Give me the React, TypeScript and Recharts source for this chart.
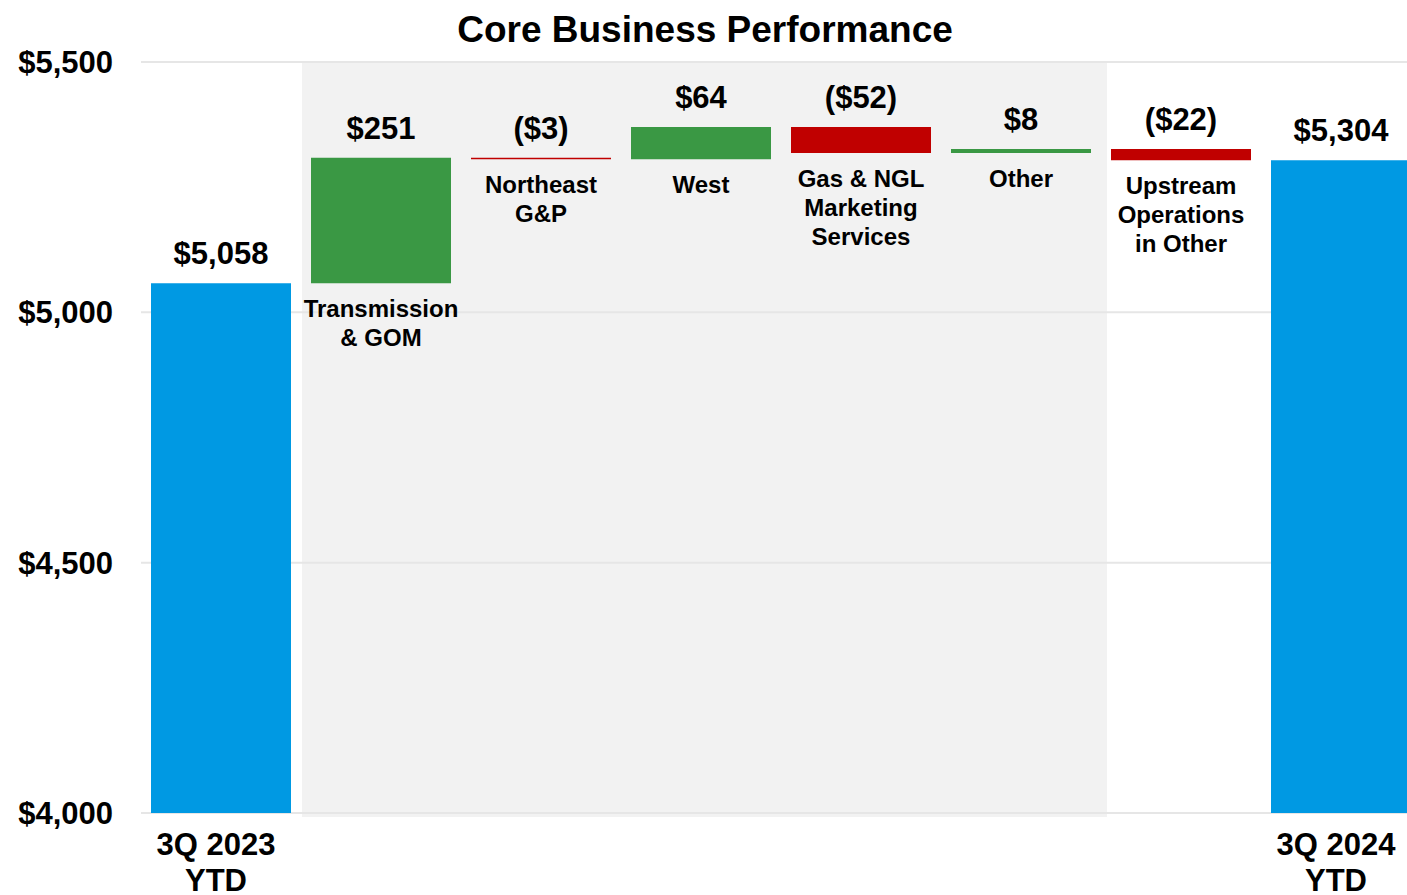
import { BarChart, Bar, Cell, XAxis, YAxis, CartesianGrid, ReferenceArea, LabelList } from 'recharts';

const categories = [
  '3Q 2023 YTD',
  'Transmission & GOM',
  'Northeast G&P',
  'West',
  'Gas & NGL Marketing Services',
  'Other',
  'Upstream Operations in Other',
  '3Q 2024 YTD',
];
const categoryLines = [
  ['3Q 2023', 'YTD'],
  ['Transmission', '& GOM'],
  ['Northeast', 'G&P'],
  ['West'],
  ['Gas & NGL', 'Marketing', 'Services'],
  ['Other'],
  ['Upstream', 'Operations', 'in Other'],
  ['3Q 2024', 'YTD'],
];
const values = [5058, 251, -3, 64, -52, 8, -22, 5304];
const isTotal = [true, false, false, false, false, false, false, true];
const yTicks = [4000, 4500, 5000, 5500];

const Y_MIN = 4000;
const Y_MAX = 5500;
const BLUE = '#0099e3';
const GREEN = '#3a9844';
const RED = '#c00000';
const FONT = '"Liberation Sans", Arial, sans-serif';

// build floating ranges for the waterfall
let running = 0;
const rows = categories.map((name, i) => {
  const v = values[i];
  let range: [number, number];
  if (isTotal[i]) {
    running = v;
    range = [Y_MIN, v];
  } else {
    const next = running + v;
    range = [Math.min(running, next), Math.max(running, next)];
    running = next;
  }
  return { name, range };
});

const fmt = (v: number, total: boolean) => {
  const s = '$' + Math.abs(v).toLocaleString('en-US');
  if (total) return s;
  return v < 0 ? `(${s})` : s;
};

const colorOf = (i: number) => (isTotal[i] ? BLUE : values[i] < 0 ? RED : GREEN);

const renderLabel = (props: any) => {
  const index = props.index;
  const vb = props.viewBox ?? props;
  const x = vb.x ?? props.x;
  const y = vb.y ?? props.y;
  const w = vb.width ?? props.width;
  const h = vb.height ?? props.height;
  const top = Math.min(y, y + h);
  const bottom = Math.max(y, y + h);
  const cx = x + w / 2;
  return (
    <g>
      <text x={cx} y={top - 19} textAnchor="middle" fontSize={31} fontWeight={700} fill="#000">
        {fmt(values[index], isTotal[index])}
      </text>
      {!isTotal[index] &&
        categoryLines[index].map((line, k) => (
          <text key={k} x={cx} y={bottom + 34 + k * 29} textAnchor="middle" fontSize={24} fontWeight={700} fill="#000">
            {line}
          </text>
        ))}
    </g>
  );
};

const renderXTick = (props: any) => {
  const { x, y, payload } = props;
  const index = props.index ?? payload?.index;
  if (!isTotal[index]) return <g />;
  return (
    <g>
      {categoryLines[index].map((line, k) => (
        <text key={k} x={x - 5} y={y + 42 + k * 36} textAnchor="middle" fontSize={31} fontWeight={700} fill="#000">
          {line}
        </text>
      ))}
    </g>
  );
};

const App = () => {
  return (
    <div
      style={{
        position: 'absolute',
        left: 0,
        top: 0,
        width: 1407,
        height: 895,
        overflow: 'hidden',
        background: '#fff',
        fontFamily: FONT,
      }}
    >
      <BarChart width={1421} height={895} data={rows} margin={{ top: 62, right: 0, bottom: 0, left: 0 }}>
        <ReferenceArea
          x1={categories[1]}
          x2={categories[5]}
          y1={3992}
          y2={Y_MAX}
          ifOverflow="visible"
          zIndex={-200}
          shape={(p: any) => <rect x={p.x + 1} y={p.y} width={p.width + 5} height={p.height} fill="#f2f2f2" />}
        />
        <CartesianGrid vertical={false} stroke="#e6e6e6" strokeWidth={2} />
        <XAxis
          dataKey="name"
          height={82}
          axisLine={false}
          tickLine={false}
          tickSize={0}
          tickMargin={0}
          interval={0}
          tick={renderXTick}
        />
        <YAxis
          width={141}
          domain={[Y_MIN, Y_MAX]}
          ticks={yTicks}
          allowDataOverflow
          axisLine={false}
          tickLine={false}
          tickSize={0}
          tickMargin={28}
          tickFormatter={(v: number) => '$' + v.toLocaleString('en-US')}
          tick={{ fontSize: 31, fontWeight: 700, fill: '#000' }}
        />
        <Bar dataKey="range" barSize={140} isAnimationActive={false}>
          {rows.map((r, i) => (
            <Cell key={r.name} fill={colorOf(i)} />
          ))}
          <LabelList dataKey="range" content={renderLabel} />
        </Bar>
      </BarChart>
      <svg width={1407} height={60} style={{ position: 'absolute', left: 0, top: 0, pointerEvents: 'none' }}>
        <text x={705} y={42} textAnchor="middle" fontSize={37} fontWeight={700} fill="#000" fontFamily={FONT}>
          Core Business Performance
        </text>
      </svg>
    </div>
  );
};

export default App;
